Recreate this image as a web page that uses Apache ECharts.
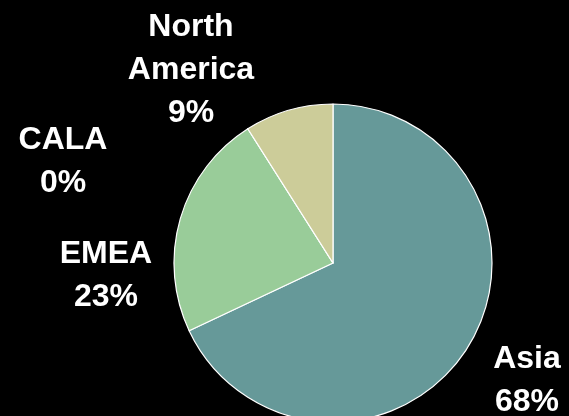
<!DOCTYPE html>
<html>
<head>
<meta charset="utf-8">
<script src="https://cdn.jsdelivr.net/npm/echarts@6/dist/echarts.min.js"></script>
<style>
html,body{margin:0;padding:0;background:#000;}
#c{width:569px;height:416px;}
</style>
</head>
<body>
<div id="c"></div>
<script>
var categories = ['Asia', 'EMEA', 'CALA', 'North America'];
var values = [68, 23, 0, 9];
var colors = ['#669999', '#99CC99', '#99CCCC', '#CCCC99'];
var labelSpots = [[527, 381], [106, 276], [63, 162], [191, 70]];

var chart = echarts.init(document.getElementById('c'));
chart.setOption({
  backgroundColor: '#000000',
  animation: false,
  series: [{
    type: 'pie',
    center: [333, 263],
    radius: 159,
    startAngle: 90,
    clockwise: true,
    percentPrecision: 0,
    avoidLabelOverlap: false,
    itemStyle: { borderColor: '#ffffff', borderWidth: 1.2 },
    label: {
      show: true,
      position: 'outside',
      color: '#ffffff',
      fontFamily: '"Liberation Sans", Arial, sans-serif',
      fontWeight: 'bold',
      fontSize: 32,
      lineHeight: 43,
      align: 'center',
      formatter: function (p) { return p.name.replace(' ', '\n') + '\n' + Math.round(p.percent) + '%'; }
    },
    labelLine: { show: false },
    labelLayout: function (p) {
      var s = labelSpots[p.dataIndex];
      return { x: s[0], y: s[1], align: 'center', verticalAlign: 'middle' };
    },
    data: categories.map(function (c, i) {
      return { name: c, value: values[i], itemStyle: { color: colors[i] } };
    })
  }]
});
</script>
</body>
</html>
